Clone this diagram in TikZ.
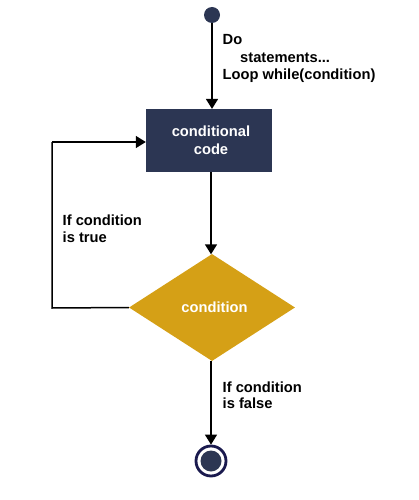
\documentclass[tikz,border=0pt]{standalone}
\usepackage{fontspec}
\setmainfont{Liberation Sans}
\usetikzlibrary{shapes.geometric,arrows.meta}
\definecolor{navy}{RGB}{44,54,83}
\definecolor{ring}{RGB}{26,26,78}
\definecolor{gold}{RGB}{213,160,22}
\begin{document}
\begin{tikzpicture}[x=1pt,y=-1pt,
  lbl/.style={font=\bfseries\fontsize{14.7}{17}\selectfont,anchor=base west,inner sep=0pt},
  conn/.style={line width=1.5pt,-{Triangle[length=10pt,width=12pt]}},
  plain/.style={line width=1.5pt}]
\useasboundingbox (0,0) rectangle (419,500);
\node[circle,fill=navy,minimum size=16pt,inner sep=0pt] (start) at (212,15) {};
\node[rectangle,fill=navy,minimum width=126pt,minimum height=63pt,inner sep=0pt,text=white,align=center,font=\bfseries\fontsize{14.7}{18}\selectfont] (code) at (209,140.5) {\hspace*{4pt}conditional\\\hspace*{4pt}code};
\node[diamond,fill=gold,minimum width=166pt,minimum height=107pt,inner sep=0pt,aspect=1.55,text=white,font=\bfseries\fontsize{14.7}{17}\selectfont] (cond) at (212,307.5) {\raisebox{1.5pt}{\hspace{5pt}condition}};
\node[circle,draw=ring,line width=2.8pt,minimum size=30pt,inner sep=0pt] (end) at (211,461) {};
\node[circle,fill=navy,minimum size=21pt,inner sep=0pt] (endin) at (end.center) {};
\coordinate (c1) at (52,308);
\coordinate (c2) at (52,142);
\draw[conn] (start.south -| 212,0) -- (212,108.9);
\draw[conn] (code.south -| 211,0) -- (211,254.3);
\draw[conn] (cond.south -| 211,0) -- (end.north);
\draw[plain] (cond.west) -- (c1) -- (c2);
\draw[conn] (c2) -- (code.west |- c2);
\node[lbl] (l1) at (222.5,45) {Do};
\node[lbl] (l2) at (240,62.5) {statements...};
\node[lbl] (l3) at (222.5,80) {Loop while(condition)};
\node[lbl] (l4) at (62.5,225) {If condition};
\node[lbl] (l4b) at (62.5,242) {is true};
\node[lbl] (l5) at (222.5,392) {If condition};
\node[lbl] (l5b) at (222.5,408.5) {is false};
\end{tikzpicture}
\end{document}
